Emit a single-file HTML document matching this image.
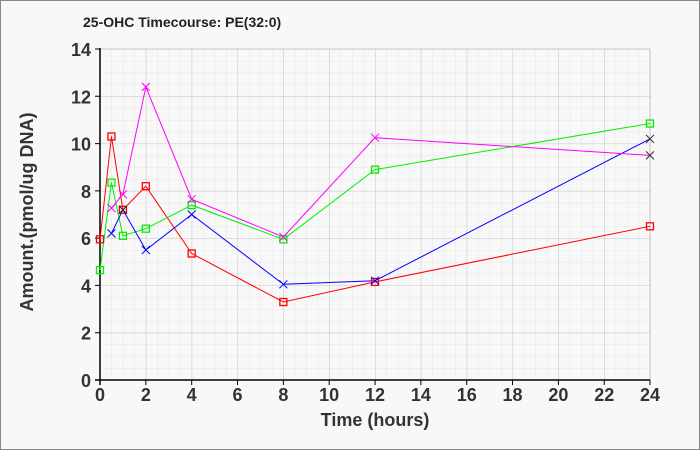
<!DOCTYPE html><html><head><style>body{margin:0;background:#fff}svg{display:block;font-family:"Liberation Sans",sans-serif}</style></head><body>
<svg width="700" height="450" viewBox="0 0 700 450" xmlns="http://www.w3.org/2000/svg">
<defs>
<pattern id="mn" patternUnits="userSpaceOnUse" x="100" y="380" width="11.46" height="11.82"><path d="M0 0V11.82M0 0H11.46" stroke="#e6e6e6" fill="none"/></pattern>
<pattern id="mj" patternUnits="userSpaceOnUse" x="100" y="380" width="45.84" height="47.28"><path d="M0 0V47.28M0 0H45.84" stroke="#c8c8c8" fill="none"/></pattern>
</defs>
<rect x="0.5" y="0.5" width="699" height="449" fill="#f8f8f8" stroke="#888"/>
<text x="83" y="27" font-size="14" font-weight="bold" fill="#222">25-OHC Timecourse: PE(32:0)</text>
<rect x="100" y="49" width="551" height="331" fill="url(#mn)"/>
<rect x="100" y="49" width="551" height="331" fill="url(#mj)"/>
<line x1="100" y1="49" x2="650" y2="49" stroke="#c8c8c8"/>
<line x1="650" y1="49" x2="650" y2="380" stroke="#c8c8c8"/>
<line x1="100" y1="48" x2="100" y2="385" stroke="#000" stroke-width="1.5"/>
<line x1="95" y1="380" x2="650" y2="380" stroke="#000" stroke-width="1.5"/>
<g stroke="#000">
<path d="M95 380.0H100M95 332.7H100M95 285.4H100M95 238.1H100M95 190.9H100M95 143.6H100M95 96.3H100M95 49H100"/>
<path d="M100 380V385M145.84 380V385M191.68 380V385M237.52 380V385M283.36 380V385M329.2 380V385M375.04 380V385M420.88 380V385M466.72 380V385M512.56 380V385M558.4 380V385M604.24 380V385M650 380V385"/>
</g>
<g font-size="18" font-weight="bold" fill="#333" text-anchor="end">
<text x="91" y="387">0</text><text x="91" y="339.7">2</text><text x="91" y="292.4">4</text><text x="91" y="245.1">6</text><text x="91" y="197.9">8</text><text x="91" y="150.6">10</text><text x="91" y="103.3">12</text><text x="91" y="56">14</text>
</g>
<g font-size="18" font-weight="bold" fill="#333" text-anchor="middle">
<text x="100" y="401">0</text><text x="145.84" y="401">2</text><text x="191.68" y="401">4</text><text x="237.52" y="401">6</text><text x="283.36" y="401">8</text><text x="329.2" y="401">10</text><text x="375.04" y="401">12</text><text x="420.88" y="401">14</text><text x="466.72" y="401">16</text><text x="512.56" y="401">18</text><text x="558.4" y="401">20</text><text x="604.24" y="401">22</text><text x="650" y="401">24</text>
<text x="375" y="426">Time (hours)</text>
<text transform="translate(33,212) rotate(-90)">Amount.(pmol/ug DNA)</text>
</g>
<g fill="none" stroke-width="1">
<polyline stroke="#ff0000" points="100,239.3 111.46,136.5 122.92,209.8 145.84,186.2 191.68,253.5 283.36,302 375.04,281.9 650,226.3"/>
<polyline stroke="#00ee00" points="100,270.1 111.46,182.6 122.92,235.8 145.84,228.7 191.68,205.1 283.36,239.3 375.04,169.6 650,123.5"/>
<polyline stroke="#0000ff" points="111.46,233.4 122.92,209.8 145.84,250 191.68,214.5 283.36,284.3 375.04,280.7 650,138.9"/>
<polyline stroke="#ff00ff" points="111.46,208.1 122.92,194.4 145.84,86.9 191.68,199.2 283.36,237 375.04,137.7 650,155.4"/>
</g>
<g fill="none" stroke="#ff0000" stroke-width="1.3">
<rect x="96.5" y="235.8" width="7" height="7"/><rect x="107.96" y="133" width="7" height="7"/><rect x="119.42" y="206.3" width="7" height="7"/><rect x="142.34" y="182.7" width="7" height="7"/><rect x="188.18" y="250" width="7" height="7"/><rect x="279.86" y="298.5" width="7" height="7"/><rect x="371.54" y="278.4" width="7" height="7"/><rect x="646.5" y="222.8" width="7" height="7"/>
</g>
<g fill="none" stroke="#00ee00" stroke-width="1.3">
<rect x="96.5" y="266.6" width="7" height="7"/><rect x="107.96" y="179.1" width="7" height="7"/><rect x="119.42" y="232.3" width="7" height="7"/><rect x="142.34" y="225.2" width="7" height="7"/><rect x="188.18" y="201.6" width="7" height="7"/><rect x="279.86" y="235.8" width="7" height="7"/><rect x="371.54" y="166.1" width="7" height="7"/><rect x="646.5" y="120" width="7" height="7"/>
</g>
<g stroke="#0000ff" stroke-width="1">
<path d="M107.46 229.4l8 8m0 -8l-8 8M118.92 205.8l8 8m0 -8l-8 8M141.84 246l8 8m0 -8l-8 8M187.68 210.5l8 8m0 -8l-8 8M279.36 280.3l8 8m0 -8l-8 8M371.04 276.7l8 8m0 -8l-8 8"/>
</g>
<g stroke="#ff00ff" stroke-width="1">
<path d="M107.46 204.1l8 8m0 -8l-8 8M118.92 190.4l8 8m0 -8l-8 8M141.84 82.9l8 8m0 -8l-8 8M187.68 195.2l8 8m0 -8l-8 8M279.36 233l8 8m0 -8l-8 8M371.04 133.7l8 8m0 -8l-8 8"/>
</g>
<g stroke="#333" stroke-width="1">
<path d="M646 134.9l8 8m0 -8l-8 8M646 151.4l8 8m0 -8l-8 8M118.92 205.8l8 8m0 -8l-8 8"/>
</g>
</svg></body></html>
